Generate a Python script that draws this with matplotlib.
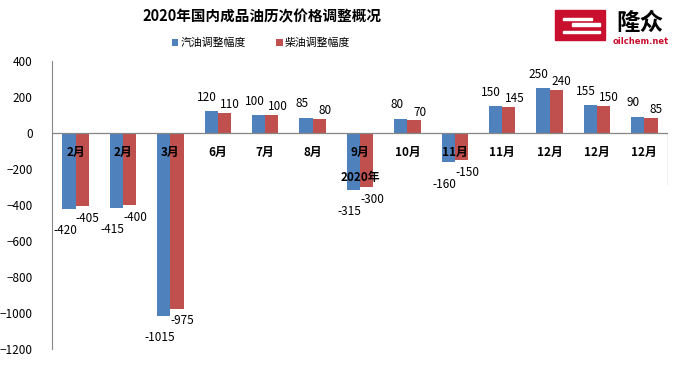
"""2020年国内成品油历次价格调整概况 - grouped bar chart."""

import matplotlib

matplotlib.use("Agg")
import matplotlib.pyplot as plt
import numpy as np
from matplotlib.patches import Rectangle

plt.rcParams["font.family"] = ["Noto Sans CJK SC", "DejaVu Sans"]

categories = ["2月", "2月", "3月", "6月", "7月", "8月", "9月",
              "10月", "11月", "11月", "12月", "12月", "12月"]
gasoline = [-420, -415, -1015, 120, 100, 85, -315, 80, -160, 150, 250, 155, 90]
diesel = [-405, -400, -975, 110, 100, 80, -300, 70, -150, 145, 240, 150, 85]
series_names = ["汽油调整幅度", "柴油调整幅度"]
axis_title = "2020年"
title = "2020年国内成品油历次价格调整概况"

BLUE = "#4F81BD"
RED = "#C0504D"
GRID = "#868686"


def main() -> None:
    fig = plt.figure(figsize=(6.81, 3.65), dpi=100)
    ax = fig.add_axes([52 / 681, 1 - 349 / 365, 616 / 681, 288 / 365])

    x = np.arange(len(categories))
    w = 0.28
    ax.bar(x - w / 2, gasoline, w, color=BLUE, label=series_names[0], zorder=2)
    ax.bar(x + w / 2, diesel, w, color=RED, label=series_names[1], zorder=2)

    ax.set_xlim(-0.5, len(categories) - 0.5)
    ax.set_ylim(-1200, 400)
    ax.set_yticks(range(-1200, 401, 200))
    ax.set_xticks([])
    ax.tick_params(axis="y", length=0, labelsize=8.5, pad=14)
    for side in ("top", "right", "bottom"):
        ax.spines[side].set_visible(False)
    ax.spines["left"].set_color(GRID)
    ax.axhline(0, color=GRID, linewidth=0.9, zorder=3)
    ax.vlines(len(categories) - 0.5, -290, 0, color=GRID, linewidth=0.9)

    # value labels
    for i, (g, d) in enumerate(zip(gasoline, diesel)):
        gy = 10 if g > 0 else -16
        dy = 6 if d > 0 else -9
        ax.annotate(str(g), (i - w / 2, g), xytext=(-3, gy), textcoords="offset points",
                    ha="center", va="center", fontsize=8.5)
        ax.annotate(str(d), (i + w / 2, d), xytext=(4, dy), textcoords="offset points",
                    ha="center", va="center", fontsize=8.5)
        ax.annotate(categories[i], (i, 0), xytext=(0, -14), textcoords="offset points",
                    ha="center", va="center", fontsize=8.5, fontweight="bold", zorder=4)

    ax.annotate(axis_title, ((len(categories) - 1) / 2, 0), xytext=(0, -32),
                textcoords="offset points", ha="center", va="center",
                fontsize=8.5, fontweight="bold", zorder=4)

    fig.text(262 / 681, 1 - 16 / 365, title, ha="center", va="center",
             fontsize=10.5, fontweight="bold")
    fig.legend(loc="center", bbox_to_anchor=(261 / 681, 1 - 43 / 365), ncol=2,
               frameon=False, fontsize=7.8, handlelength=0.6, handleheight=0.6,
               handletextpad=0.2, columnspacing=2.8)

    # oilchem logo
    fig.patches.append(Rectangle((555 / 681, 1 - 40 / 365), 50 / 681, 30 / 365,
                                 transform=fig.transFigure, color="#C8102E"))
    for x0, y0, x1 in ((563, 19, 592), (572, 24.5, 600), (563, 32, 600)):
        fig.patches.append(Rectangle((x0 / 681, 1 - (y0 + 1.2) / 365), (x1 - x0) / 681, 2.4 / 365,
                                     transform=fig.transFigure, color="white"))
    fig.text(640 / 681, 1 - 23 / 365, "隆众", ha="center", va="center",
             fontsize=17, fontweight="bold")
    fig.text(641 / 681, 1 - 41 / 365, "oilchem.net", ha="center", va="center",
             fontsize=6, fontweight="bold", color="#C8102E", family="DejaVu Sans")

    fig.savefig("out.png", dpi=100)
    plt.close(fig)


if __name__ == "__main__":
    main()
